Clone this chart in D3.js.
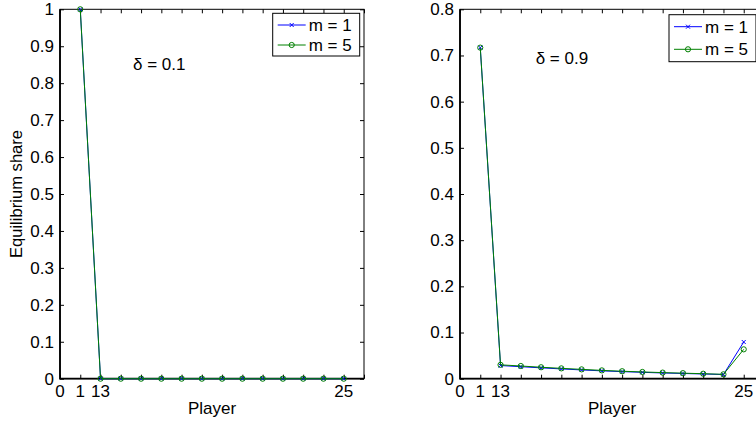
<!DOCTYPE html>
<html lang="en">
<head>
<meta charset="UTF-8">
<title>Equilibrium share by player</title>
<script src="https://d3js.org/d3.v7.min.js"></script>
<style>
  body { margin: 0; background: #fff; }
  svg { display: block; font-family: "Liberation Sans", Arial, sans-serif; }
</style>
</head>
<body>
<svg id="chart" width="756" height="423"></svg>
<script>
// axis categories (evenly spaced); the last one only closes the axis
const axisPlayers = [0, 1, 13, 14, 15, 16, 17, 18, 19, 20, 21, 22, 23, 24, 25, 26];
const players = [1, 13, 14, 15, 16, 17, 18, 19, 20, 21, 22, 23, 24, 25];
const xTickLabels = [0, 1, 13, 25];

// delta = 0.1
const low_m1 = [1, 0, 0, 0, 0, 0, 0, 0, 0, 0, 0, 0, 0, 0];
const low_m5 = [1, 0, 0, 0, 0, 0, 0, 0, 0, 0, 0, 0, 0, 0];
// delta = 0.9
const high_m1 = [0.717, 0.0285, 0.026, 0.0235, 0.0212, 0.019, 0.017, 0.0153, 0.0138, 0.0124, 0.0113, 0.0102, 0.009, 0.0795];
const high_m5 = [0.717, 0.030, 0.0275, 0.0248, 0.0224, 0.0202, 0.018, 0.0162, 0.0146, 0.0132, 0.012, 0.0108, 0.0095, 0.0636];

const seriesNames = ["m = 1", "m = 5"];
const colors = ["#0000ff", "#008000"];

const svg = d3.select("#chart");
const yTop = 9.3, yBottom = 378.7, fs = 17;

function panel(o) {
  const g = svg.append("g");
  const x = d3.scalePoint().domain(axisPlayers).range([o.left, o.left + 304]);
  const y = d3.scaleLinear().domain([0, o.ymax]).range([yBottom, yTop]);
  const fmt = d => String(+d.toFixed(1));

  // frame ticks, all inward
  g.append("g").attr("transform", `translate(0,${yBottom})`)
    .call(d3.axisBottom(x).tickSize(-4).tickFormat(""));
  g.append("g").attr("transform", `translate(0,${yTop})`)
    .call(d3.axisTop(x).tickSize(-4).tickFormat(""));
  g.append("g").attr("transform", `translate(${o.left},0)`)
    .call(d3.axisLeft(y).ticks(o.nt).tickSize(-4).tickPadding(6).tickFormat(fmt));
  g.append("g").attr("transform", `translate(${x(26)},0)`)
    .call(d3.axisRight(y).ticks(o.nt).tickSize(-4).tickFormat(""));
  g.selectAll(".domain").remove();
  g.selectAll(".tick line").attr("stroke", "#000");
  g.selectAll("text").attr("font-size", fs).attr("fill", "#000").attr("font-family", null);

  g.selectAll(".xlab").data(xTickLabels).join("text")
    .attr("x", d => x(d)).attr("y", 397)
    .attr("text-anchor", "middle").attr("font-size", fs)
    .text(d => d);

  // box
  g.append("rect").attr("x", o.left).attr("y", yTop)
    .attr("width", x(26) - o.left).attr("height", yBottom - yTop)
    .attr("fill", "none").attr("stroke", "#000").attr("stroke-width", 1);
  g.append("path")
    .attr("d", `M${o.left},${yTop}V${yBottom}H${x(26)}`)
    .attr("fill", "none").attr("stroke", "#000").attr("stroke-width", 1.8);

  const line = d3.line().x((d, i) => x(players[i])).y(d => y(d));
  o.series.forEach((vals, k) => {
    g.append("path").datum(vals).attr("d", line)
      .attr("fill", "none").attr("stroke", colors[k]).attr("stroke-width", 1);
    drawMarkers(g, vals.map((v, i) => [x(players[i]), y(v)]), k);
  });

  g.append("text").attr("x", (o.left + x(26)) / 2).attr("y", 413.5)
    .attr("text-anchor", "middle").attr("font-size", fs).text("Player");

  g.append("text").attr("x", o.noteX).attr("y", o.noteY)
    .attr("font-size", fs).text(o.note);

  // legend
  const lg = g.append("g").attr("transform", `translate(${o.legX},${o.legY})`);
  lg.append("rect").attr("width", 87).attr("height", o.legH)
    .attr("fill", "#fff").attr("stroke", "#000").attr("stroke-width", 1);
  seriesNames.forEach((name, k) => {
    const cy = o.legRows[k];
    lg.append("line").attr("x1", 5).attr("x2", 33).attr("y1", cy).attr("y2", cy)
      .attr("stroke", colors[k]).attr("stroke-width", 1);
    drawMarkers(lg, [[19, cy]], k);
    lg.append("text").attr("x", 36).attr("y", cy + 6).attr("font-size", fs).text(name);
  });
}

function drawMarkers(g, pts, k) {
  if (k === 0) {
    g.append("g").selectAll("path").data(pts).join("path")
      .attr("d", p => `M${p[0] - 2},${p[1] - 2}L${p[0] + 2},${p[1] + 2}M${p[0] - 2},${p[1] + 2}L${p[0] + 2},${p[1] - 2}`)
      .attr("stroke", colors[0]).attr("stroke-width", 1);
  } else {
    g.append("g").selectAll("circle").data(pts).join("circle")
      .attr("cx", p => p[0]).attr("cy", p => p[1]).attr("r", 2.6)
      .attr("fill", "none").attr("stroke", colors[1]).attr("stroke-width", 1);
  }
}

panel({ left: 60, ymax: 1, nt: 10, series: [low_m1, low_m5],
  note: "δ = 0.1", noteX: 133, noteY: 70,
  legX: 272.7, legY: 13.3, legH: 42.7, legRows: [11.7, 31.7] });
panel({ left: 460, ymax: 0.8, nt: 8, series: [high_m1, high_m5],
  note: "δ = 0.9", noteX: 535.7, noteY: 64,
  legX: 669, legY: 14.7, legH: 47, legRows: [12, 34.6] });

svg.append("text")
  .attr("transform", "translate(22,194) rotate(-90)")
  .attr("text-anchor", "middle").attr("font-size", 16.6)
  .text("Equilibrium share");
</script>
</body>
</html>
